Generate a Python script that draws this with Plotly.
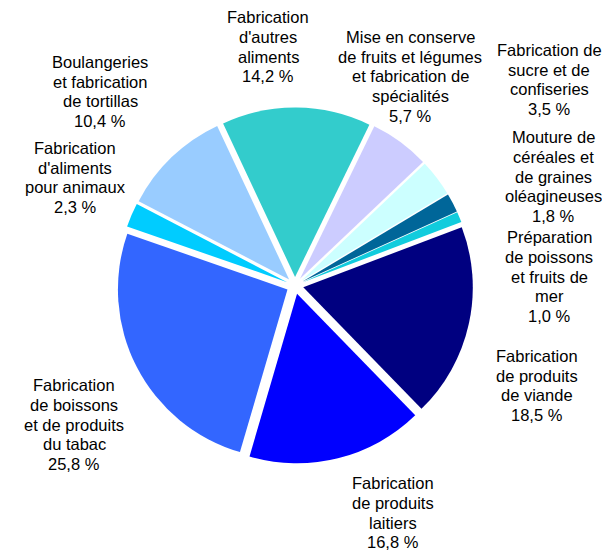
import plotly.graph_objects as go

categories = [
    "Mise en conserve<br>de fruits et légumes<br>et fabrication de<br>spécialités",
    "Fabrication de<br>sucre et de<br>confiseries",
    "Mouture de<br>céréales et<br>de graines<br>oléagineuses",
    "Préparation<br>de poissons<br>et fruits de<br>mer",
    "Fabrication<br>de produits<br>de viande",
    "Fabrication<br>de produits<br>laitiers",
    "Fabrication<br>de boissons<br>et de produits<br>du tabac",
    "Fabrication<br>d'aliments<br>pour animaux",
    "Boulangeries<br>et fabrication<br>de tortillas",
    "Fabrication<br>d'autres<br>aliments",
]
values = [5.7, 3.5, 1.8, 1.0, 18.5, 16.8, 25.8, 2.3, 10.4, 14.2]
colors = ["#CCCCFF", "#CCFFFF", "#006699", "#11CCDD", "#000080",
          "#0000FF", "#3366FF", "#00CCFF", "#99CCFF", "#33CCCC"]

W, H = 610, 554
# centre of the first line of each label, in pixels (x, y)
label_pos = [(402, 29), (541, 42), (545, 129), (541, 229), (529, 348),
             (385, 475), (66, 377), (67, 140), (92, 54), (260, 9)]
LINE_STEP = 19.75

fig = go.Figure(go.Pie(
    labels=[c.replace("<br>", " ") for c in categories],
    values=values,
    sort=False,
    direction="clockwise",
    rotation=26,
    pull=[0.05] * len(values),
    marker=dict(colors=colors, line=dict(width=0)),
    textinfo="none",
    hoverinfo="label+percent",
    domain=dict(x=[109 / W, 465 / W], y=[1 - 456 / H, 1 - 99 / H]),
    automargin=False,
))

for cat, v, (px, py) in zip(categories, values, label_pos):
    lines = cat.split("<br>") + [f"{v:.1f}".replace(".", ",") + " %"]
    for i, line in enumerate(lines):
        fig.add_annotation(
            x=px / W, y=1 - (py + i * LINE_STEP) / H, xref="paper", yref="paper",
            xanchor="center", yanchor="middle", showarrow=False,
            text=line, align="center",
            font=dict(family="Liberation Sans, Arial, sans-serif", size=16.5, color="#000000"),
        )

fig.update_layout(
    width=W, height=H,
    margin=dict(l=0, r=0, t=0, b=0),
    showlegend=False,
    paper_bgcolor="#FFFFFF",
    plot_bgcolor="#FFFFFF",
)

fig.write_html("out.html")
